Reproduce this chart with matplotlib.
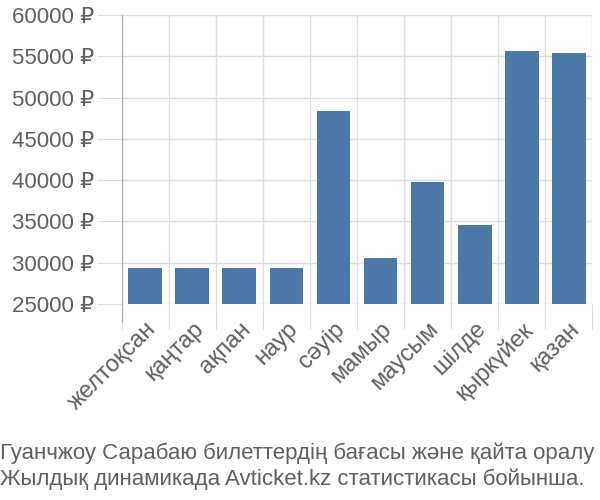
import matplotlib.pyplot as plt
from matplotlib.ticker import FuncFormatter

months = ['желтоқсан', 'қаңтар', 'ақпан', 'наур', 'сәуір', 'мамыр',
          'маусым', 'шілде', 'қыркүйек', 'қазан']
prices = [29300, 29300, 29300, 29300, 48350, 30600, 39750, 34550, 55600, 55400]
yticks = [25000, 30000, 35000, 40000, 45000, 50000, 55000, 60000]
title = ('Гуанчжоу Сарабаю билеттердің бағасы және қайта оралу\n'
         'Жылдық динамикада Avticket.kz статистикасы бойынша.')

plt.rcParams['font.family'] = ['Liberation Sans', 'DejaVu Sans']

fig = plt.figure(figsize=(6, 5), dpi=100)
ax = fig.add_axes([0.203, 0.392, 0.784, 0.578])

x = range(len(months))
ax.bar(x, prices, width=0.72, color='#4c78a8', zorder=2)

ax.set_xlim(-0.5, len(months) - 0.5)
ax.set_ylim(25000, 60000)
ax.set_yticks(yticks)
ax.yaxis.set_major_formatter(FuncFormatter(lambda v, p: '%d ₽' % v))
ax.set_xticks([i - 0.5 for i in x] + [len(months) - 0.5], minor=False)
ax.set_xticklabels([])
ax.set_xticks(list(x), minor=True)
ax.set_xticklabels(months, minor=True, rotation=45, ha='right',
                   rotation_mode='anchor', fontsize=17, color='#606060')
ax.tick_params(axis='x', which='minor', length=0, pad=10)
ax.tick_params(axis='x', which='major', length=18, color='#dddddd')
ax.tick_params(axis='y', length=18, color='#dddddd', labelsize=16,
               labelcolor='#606060', pad=2)

ax.grid(True, which='major', color='#dddddd', linewidth=1, zorder=0)
for s in ['top', 'right', 'bottom']:
    ax.spines[s].set_visible(False)
ax.spines['left'].set_color('#aaaaaa')
ax.spines['left'].set_bounds(22800, 60000)

fig.text(0.0, 0.03, title, fontsize=16, color='#606060', linespacing=1.3)

fig.savefig('out.png')
